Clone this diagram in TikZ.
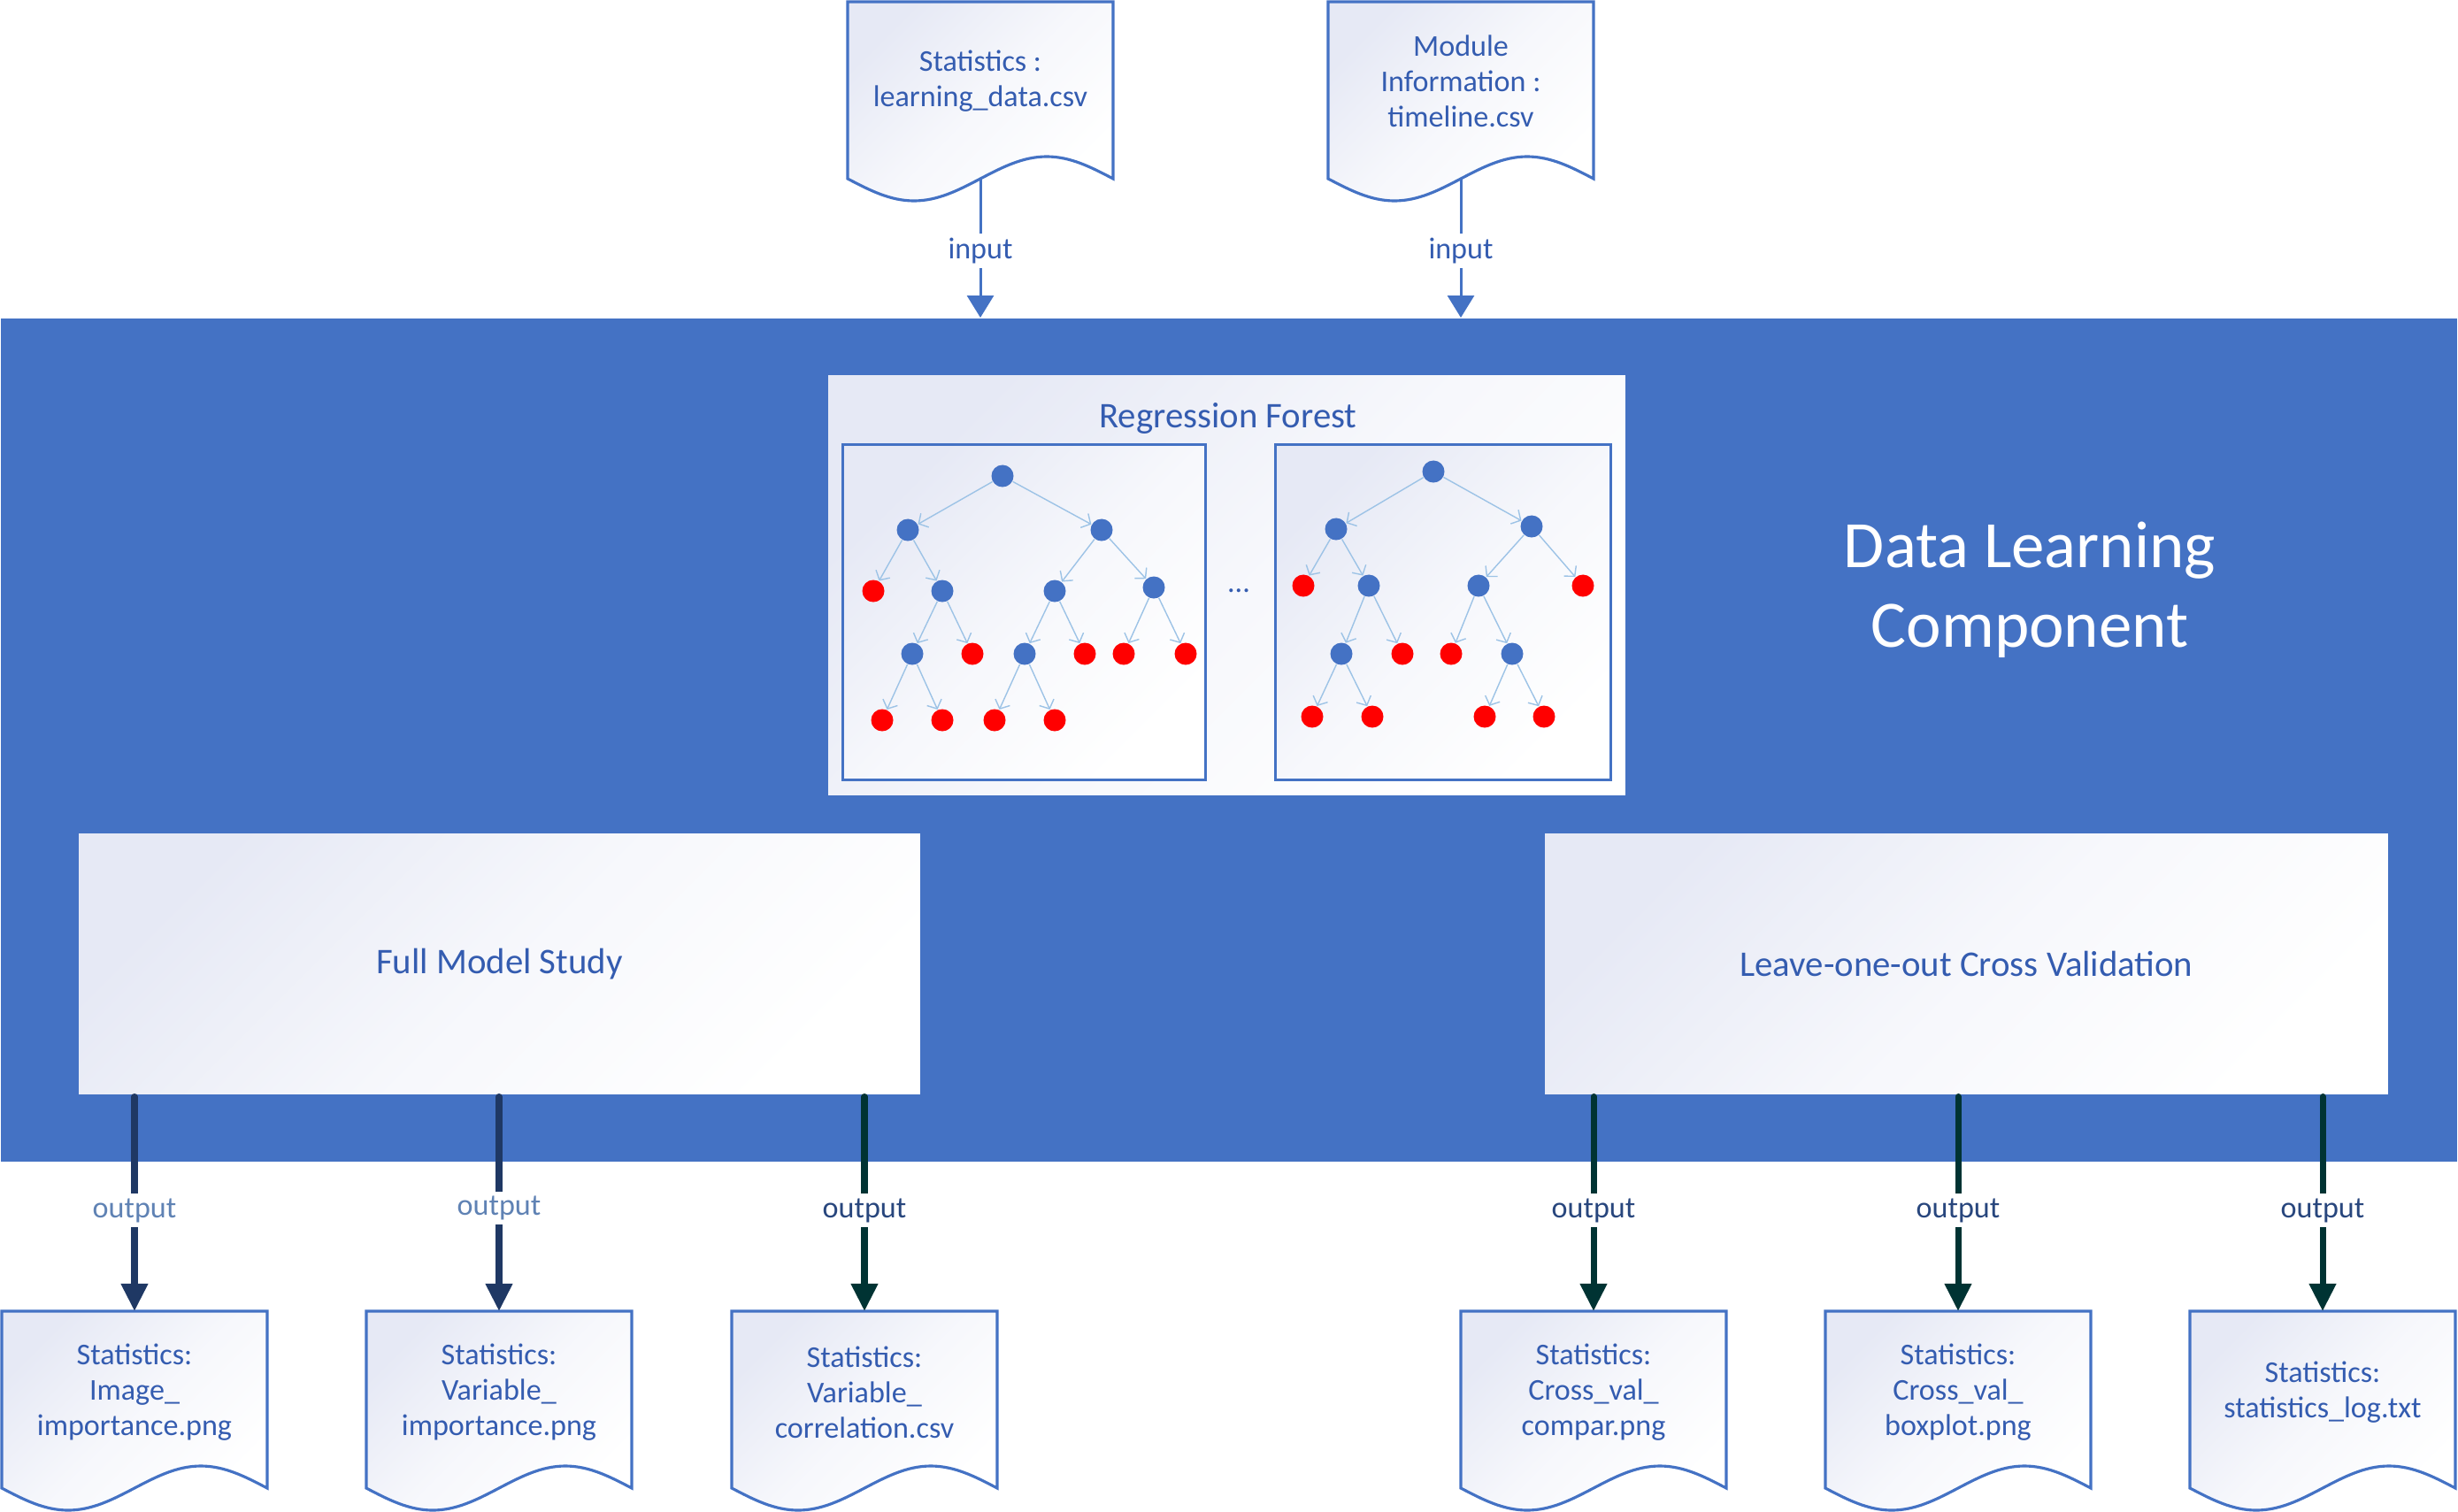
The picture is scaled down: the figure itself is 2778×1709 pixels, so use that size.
\documentclass[tikz,border=0pt]{standalone}
\usepackage{fontspec}
\setmainfont{Carlito}
\usetikzlibrary{arrows.meta}
\definecolor{mainblue}{RGB}{68,114,196}
\definecolor{docblue}{RGB}{68,114,196}
\definecolor{txtblue}{RGB}{52,92,176}
\definecolor{lav}{RGB}{230,233,245}
\definecolor{edgeblue}{RGB}{157,195,230}
\definecolor{navy}{RGB}{31,56,100}
\definecolor{teal}{RGB}{0,51,51}
\definecolor{lablight}{RGB}{95,130,180}
\definecolor{labdark}{RGB}{40,70,125}
\definecolor{leafred}{RGB}{255,0,0}
\newcommand{\mydoc}[3]{%
  \path[docstyle] (#1,#2) -- (#1+300,#2) -- (#1+300,#3) sin (#1+225,#3-25) cos (#1+150,#3) sin (#1+75,#3+25) cos (#1,#3) -- cycle;}
\begin{document}
\begin{tikzpicture}[x=0.01cm,y=-0.01cm,
  every node/.style={font=\fontsize{9.7}{11.4}\selectfont, text=txtblue, align=center},
  docstyle/.style={draw=docblue, line width=0.9pt, top color=lav, bottom color=white, middle color=lav!35!white, shading angle=45},
  panel/.style={draw=docblue, line width=0.8pt, top color=lav, bottom color=white, middle color=lav!35!white, shading angle=45, inner sep=0pt},
  bn/.style={circle, fill=mainblue, draw=none, minimum size=0.25cm, inner sep=0pt},
  rn/.style={circle, fill=leafred, draw=none, minimum size=0.25cm, inner sep=0pt},
  tedge/.style={draw=edgeblue, line width=0.4pt, -{Straight Barb[length=0.8mm,width=1.8mm]}},
  inarrow/.style={draw=mainblue, line width=0.85pt, -{Triangle[length=0.25cm,width=0.30cm]}},
  outnavy/.style={draw=navy, line width=2pt, line cap=round, -{Triangle[length=0.31cm,width=0.29cm]}},
  outteal/.style={draw=teal, line width=2pt, line cap=round, -{Triangle[length=0.31cm,width=0.29cm]}},
  lab/.style={fill=white, inner sep=1.5pt},
  boxtitle/.style={font=\fontsize{11.6}{14}\selectfont}
]
\useasboundingbox (0,0) rectangle (2778,1709);

% main container
\node[fill=mainblue, draw=none, minimum width=27.74cm, minimum height=9.53cm, inner sep=0pt] (main) at (1389,836.5) {};
\node[text=white, font=\fontsize{21.3}{25.6}\selectfont] (dlc) at (2294,667) {Data Learning\\Component};

% Regression forest
\node[panel, minimum width=9.03cm, minimum height=4.77cm] (rf) at (1386.5,661.5) {};
\node[boxtitle] (rft) at (1388,473) {Regression Forest};
\node[panel, minimum width=4.09cm, minimum height=3.78cm] (t1) at (1157.5,692) {};
\node[panel, minimum width=3.78cm, minimum height=3.78cm] (t2) at (1631,692) {};
\node (dots) at (1400,668) {...};

% left tree
\node[bn] (a0) at (1133,538) {};
\node[bn] (a1) at (1026,599) {};
\node[bn] (a2) at (1245,599) {};
\node[rn] (a3) at (987,668) {};
\node[bn] (a4) at (1065,668) {};
\node[bn] (a5) at (1192,668) {};
\node[bn] (a6) at (1304,664) {};
\node[bn] (a7) at (1031,739) {};
\node[rn] (a8) at (1099,739) {};
\node[bn] (a9) at (1158,739) {};
\node[rn] (a10) at (1226,739) {};
\node[rn] (a11) at (1270,739) {};
\node[rn] (a12) at (1340,739) {};
\node[rn] (a13) at (997,814) {};
\node[rn] (a14) at (1065,814) {};
\node[rn] (a15) at (1124,814) {};
\node[rn] (a16) at (1192,814) {};
\foreach \p/\c in {a0/a1,a0/a2,a1/a3,a1/a4,a2/a5,a2/a6,a4/a7,a4/a8,a5/a9,a5/a10,a6/a11,a6/a12,a7/a13,a7/a14,a9/a15,a9/a16}
  \draw[tedge] (\p) -- (\c);

% right tree
\node[bn] (b0) at (1620,533) {};
\node[bn] (b1) at (1510,598) {};
\node[bn] (b2) at (1731,595) {};
\node[rn] (b3) at (1473,662) {};
\node[bn] (b4) at (1547,662) {};
\node[bn] (b5) at (1671,662) {};
\node[rn] (b6) at (1789,662) {};
\node[bn] (b7) at (1516,739) {};
\node[rn] (b8) at (1585,739) {};
\node[rn] (b9) at (1640,739) {};
\node[bn] (b10) at (1709,739) {};
\node[rn] (b11) at (1483,810) {};
\node[rn] (b12) at (1551,810) {};
\node[rn] (b13) at (1678,810) {};
\node[rn] (b14) at (1745,810) {};
\foreach \p/\c in {b0/b1,b0/b2,b1/b3,b1/b4,b2/b5,b2/b6,b4/b7,b4/b8,b5/b9,b5/b10,b7/b11,b7/b12,b10/b13,b10/b14}
  \draw[tedge] (\p) -- (\c);

% study boxes
\node[panel, boxtitle, minimum width=9.53cm, minimum height=2.97cm] (fms) at (564.5,1089.5) {Full Model Study};
\node[panel, boxtitle, minimum width=9.55cm, minimum height=2.97cm] (loo) at (2222.5,1089.5) {Leave-one-out Cross Validation};

% input documents
\mydoc{958}{2}{202}
\node (in1) at (1108,92) {Statistics :\\learning\_data.csv};
\coordinate (in1b) at (1108,202);
\mydoc{1501}{2}{202}
\node (in2) at (1651,92) {Module\\Information :\\timeline.csv};
\coordinate (in2b) at (1651,202);
\draw[inarrow] (in1b) -- node[lab, pos=0.52]{input} (in1b |- main.north);
\draw[inarrow] (in2b) -- node[lab, pos=0.52]{input} (in2b |- main.north);

% output documents
\mydoc{2}{1482}{1682}
\node (oA) at (152,1574) {Statistics:\\Image\_\\importance.png};
\coordinate (oAt) at (152,1482);
\mydoc{414}{1482}{1682}
\node (oB) at (564,1574) {Statistics:\\Variable\_\\importance.png};
\coordinate (oBt) at (564,1482);
\mydoc{827}{1482}{1682}
\node (oC) at (977,1574) {Statistics:\\Variable\_\\correlation.csv};
\coordinate (oCt) at (977,1482);
\mydoc{1651}{1482}{1682}
\node (oD) at (1801,1574) {Statistics:\\Cross\_val\_\\compar.png};
\coordinate (oDt) at (1801,1482);
\mydoc{2063}{1482}{1682}
\node (oE) at (2213,1574) {Statistics:\\Cross\_val\_\\boxplot.png};
\coordinate (oEt) at (2213,1482);
\mydoc{2475}{1482}{1682}
\node (oF) at (2625,1574) {Statistics:\\statistics\_log.txt};
\coordinate (oFt) at (2625,1482);

\draw[outnavy] (fms.south -| oAt) -- node[lab, pos=0.53, text=lablight]{output} (oAt);
\draw[outnavy] (fms.south -| oBt) -- node[lab, pos=0.52, text=lablight]{output} (oBt);
\draw[outteal] (fms.south -| oCt) -- node[lab, pos=0.53, text=labdark]{output} (oCt);
\draw[outteal] (loo.south -| oDt) -- node[lab, pos=0.53, text=labdark]{output} (oDt);
\draw[outteal] (loo.south -| oEt) -- node[lab, pos=0.53, text=labdark]{output} (oEt);
\draw[outteal] (loo.south -| oFt) -- node[lab, pos=0.53, text=labdark]{output} (oFt);
\end{tikzpicture}
\end{document}
